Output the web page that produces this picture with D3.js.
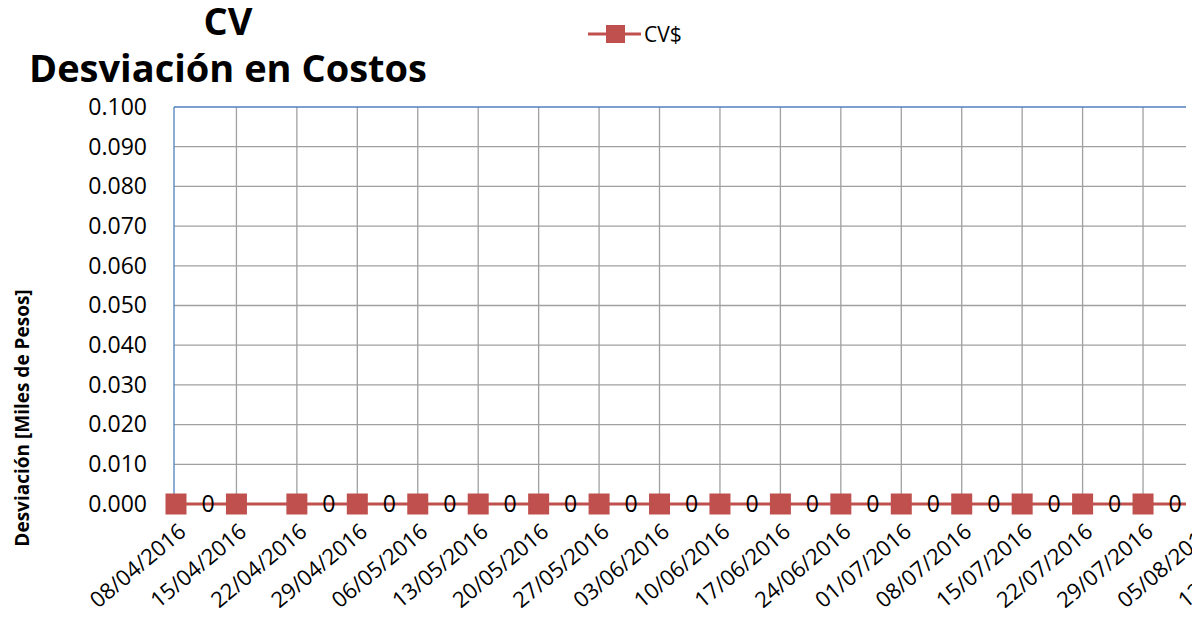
<!DOCTYPE html>
<html><head><meta charset="utf-8">
<script src="https://cdn.jsdelivr.net/npm/d3@7"></script>
<style>body{margin:0;background:#fff;overflow:hidden}svg{display:block}</style>
</head><body>
<script>
const dates = ["08/04/2016","15/04/2016","22/04/2016","29/04/2016","06/05/2016","13/05/2016","20/05/2016","27/05/2016","03/06/2016","10/06/2016","17/06/2016","24/06/2016","01/07/2016","08/07/2016","15/07/2016","22/07/2016","29/07/2016","05/08/2016","12/08/2016"];
const cvValues = [0,0,0,0,0,0,0,0,0,0,0,0,0,0,0,0,0,0,0];
const labelShown = [true,false,true,true,true,true,true,true,true,true,true,true,true,true,true,true,true,true,true];
const yTicks = [0,0.01,0.02,0.03,0.04,0.05,0.06,0.07,0.08,0.09,0.1];
const seriesName = "CV$";

(function(){
const W = 1192, H = 617;
const font = "'Open Sans', sans-serif";
const color = "#C0504D";
const svg = d3.select("body").append("svg").attr("width", W).attr("height", H);

const pLeft = 174, pTop = 107, pBottom = 504, pRight = 1186;
const step = 60.44;
const x = d3.scalePoint().domain(dates).range([176, 176 + step*(dates.length-1)]);
const y = d3.scaleLinear().domain([0, 0.1]).range([pBottom, pTop]);

svg.append("defs").append("clipPath").attr("id", "plotclip")
  .append("rect").attr("x", 0).attr("y", 0).attr("width", pRight).attr("height", H);
const plot = svg.append("g").attr("clip-path", "url(#plotclip)");

plot.append("g").selectAll("line").data(yTicks.slice(0,-1)).join("line")
  .attr("x1", pLeft).attr("x2", pRight).attr("y1", d=>y(d)).attr("y2", d=>y(d))
  .attr("stroke", "#a0a0a0").attr("stroke-width", 1.3);
plot.append("g").selectAll("line").data(dates.slice(1)).join("line")
  .attr("x1", d=>x(d)).attr("x2", d=>x(d)).attr("y1", pTop).attr("y2", pBottom)
  .attr("stroke", "#a0a0a0").attr("stroke-width", 1.3);
plot.append("line").attr("x1", pLeft).attr("x2", pRight).attr("y1", pTop).attr("y2", pTop)
  .attr("stroke", "#4F81BD").attr("stroke-width", 1.3);
plot.append("line").attr("x1", pLeft).attr("x2", pLeft).attr("y1", pTop).attr("y2", pBottom)
  .attr("stroke", "#4F81BD").attr("stroke-width", 1.3);

const yAxis = d3.axisLeft(y).tickValues(yTicks).tickFormat(d3.format(".3f")).tickSize(0).tickPadding(27);
const ga = svg.append("g").attr("transform", `translate(${pLeft},0)`).call(yAxis);
ga.select(".domain").remove();
ga.selectAll("text").attr("font-family", font).attr("font-size", 23).attr("fill", "#000");

const xAxis = d3.axisBottom(x).tickSize(0).tickPadding(0);
const gx = svg.append("g").attr("transform", `translate(0,${pBottom})`).call(xAxis);
gx.select(".domain").remove();
gx.selectAll("text").attr("font-family", font).attr("font-size", 22).attr("fill", "#000")
  .attr("text-anchor", "end").attr("dy", null).attr("y", 0)
  .attr("transform", "translate(11,30) rotate(-40)");

plot.append("path").datum(cvValues)
  .attr("d", d3.line().x((d,i)=>x(dates[i])).y(d=>y(d)))
  .attr("fill", "none").attr("stroke", color).attr("stroke-width", 3);
const ms = 21;
plot.append("g").selectAll("rect").data(cvValues).join("rect")
  .attr("x", (d,i)=>x(dates[i]) - ms/2).attr("y", d=>y(d) - ms/2)
  .attr("width", ms).attr("height", ms).attr("fill", color);
plot.append("g").selectAll("text").data(cvValues.map((v,i)=>({v,i})).filter(d=>labelShown[d.i])).join("text")
  .attr("x", d=>x(dates[d.i]) + 32).attr("y", d=>y(d.v)).attr("dy", "0.36em")
  .attr("text-anchor", "middle").attr("font-family", font).attr("font-size", 23)
  .attr("fill", "#000").text(d=>d.v);

svg.append("text").attr("x", 228).attr("y", 35).attr("text-anchor", "middle")
  .attr("font-family", font).attr("font-weight", "bold").attr("font-size", 38).text("CV");
svg.append("text").attr("x", 228).attr("y", 82).attr("text-anchor", "middle")
  .attr("font-family", font).attr("font-weight", "bold").attr("font-size", 38).text("Desviación en Costos");
svg.append("text").attr("transform", "translate(29,418) rotate(-90)").attr("text-anchor", "middle")
  .attr("font-family", font).attr("font-weight", "bold").attr("font-size", 19).text("Desviación [Miles de Pesos]");

const lg = svg.append("g");
lg.append("line").attr("x1", 588).attr("x2", 641).attr("y1", 34).attr("y2", 34).attr("stroke", color).attr("stroke-width", 3);
lg.append("rect").attr("x", 606).attr("y", 25).attr("width", 19).attr("height", 18).attr("fill", color);
lg.append("text").attr("x", 644).attr("y", 34).attr("dy", "0.36em").attr("font-family", font)
  .attr("font-size", 21).text(seriesName);
})();
</script>
</body></html>
